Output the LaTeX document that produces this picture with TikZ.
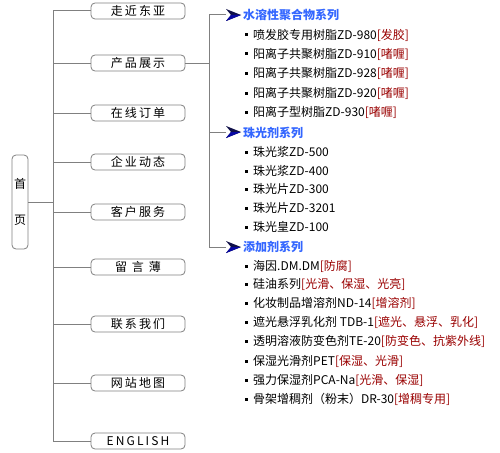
\documentclass[tikz,border=0pt]{standalone}
\usepackage{fontspec}
\setmainfont{Noto Sans CJK SC}
\newfontfamily\boxfont[LetterSpace=18]{Noto Sans CJK SC}
\definecolor{lnc}{RGB}{128,128,128}
\definecolor{hblue}{RGB}{51,102,255}
\definecolor{tred}{RGB}{153,0,0}
\definecolor{navy}{RGB}{16,16,72}
\tikzset{
  menubox/.style={draw=lnc, line width=0.8pt, rounded corners=4pt, fill=white,
    minimum width=94pt, minimum height=16pt, inner sep=0pt,
    font=\boxfont\fontsize{12}{14}\selectfont},
  homebox/.style={draw=lnc, line width=0.8pt, rounded corners=4pt, fill=white,
    minimum width=16pt, minimum height=94pt, inner sep=0pt, align=center,
    font=\fontsize{12}{14}\selectfont},
  conn/.style={draw=lnc, line width=1pt},
  item/.style={anchor=west, inner sep=0pt, font=\fontsize{12}{14}\selectfont},
  hdr/.style={anchor=west, inner sep=0pt, text=hblue, font=\bfseries\fontsize{12}{14}\selectfont},
  bul/.style={fill=black, minimum size=3pt, inner sep=0pt},
  icon/.style={fill=navy}
}
\newcommand{\rd}[1]{\textcolor{tred}{#1}}
\begin{document}
\begin{tikzpicture}[x=1pt,y=-1pt]
\useasboundingbox (0,0) rectangle (500,452);
% trunk
\coordinate (trT) at (53,11);
\coordinate (trB) at (53,441);
\draw[conn] (trT) -- (trB);
% home
\node[homebox] (home) at (20,202) {首\\[22pt]页};
\draw[conn] (home.east) -- (home.east -| trT);
% menu boxes
\foreach \n/\y/\t in {m1/11/走近东亚, m2/63/产品展示, m3/113/在线订单, m4/162/企业动态,
  m5/212/客户服务, m6/267/留 言 薄, m7/324/联系我们, m8/383/网站地图, m9/441/ENGLISH}{
  \node[menubox] (\n) at (138,\y) {\t};
  \draw[conn] (\n.west) -- (\n.west -| trT);
}
% right branch
\coordinate (rT) at (209,15);
\coordinate (rB) at (209,247);
\draw[conn] (m2.east) -- (m2.east -| rT);
\draw[conn] (rT) -- (rB);
\foreach \a/\y in {a1/15, a2/132, a3/247}{
  \coordinate (\a) at (226,\y);
  \draw[conn] (\a) -- (\a -| rT);
  \fill[icon] (\a) ++(0,-6) -- ++(15,6) -- ++(-15,6) -- ++(5,-6) -- cycle;
  \fill[blue!50!navy] (\a) ++(5,0) -- ++(10,0) -- ++(-15,6) -- cycle;
}
% headers
\node[hdr] (h1) at (243,15) {水溶性聚合物系列};
\node[hdr] (h2) at (243,133) {珠光剂系列};
\node[hdr] (h3) at (243,247) {添加剂系列};
% items
\foreach \n/\y/\t in {
  i1/35/喷发胶专用树脂ZD-980\rd{[发胶]},
  i2/54/阳离子共聚树脂ZD-910\rd{[啫喱]},
  i3/73/阳离子共聚树脂ZD-928\rd{[啫喱]},
  i4/93/阳离子共聚树脂ZD-920\rd{[啫喱]},
  i5/112/阳离子型树脂ZD-930\rd{[啫喱]},
  j1/152/珠光浆ZD-500,
  j2/171/珠光浆ZD-400,
  j3/189/珠光片ZD-300,
  j4/208/珠光片ZD-3201,
  j5/227/珠光皇ZD-100,
  k1/266/海因.DM.DM\rd{[防腐]},
  k2/284/硅油系列\rd{[光滑、保湿、光亮]},
  k3/303/化妆制品增溶剂ND-14\rd{[增溶剂]},
  k4/322/遮光悬浮乳化剂 TDB-1\rd{[遮光、悬浮、乳化]},
  k5/341/透明溶液防变色剂TE-20\rd{[防变色、抗紫外线]},
  k6/361/保湿光滑剂PET\rd{[保湿、光滑]},
  k7/380/强力保湿剂PCA-Na\rd{[光滑、保湿]},
  k8/399/骨架增稠剂（粉末）DR-30\rd{[增稠专用]}}{
  \node[bul] (b\n) at (246.5,\y) {};
  \node[item] (\n) at (253,\y) {\t};
}
\end{tikzpicture}
\end{document}
